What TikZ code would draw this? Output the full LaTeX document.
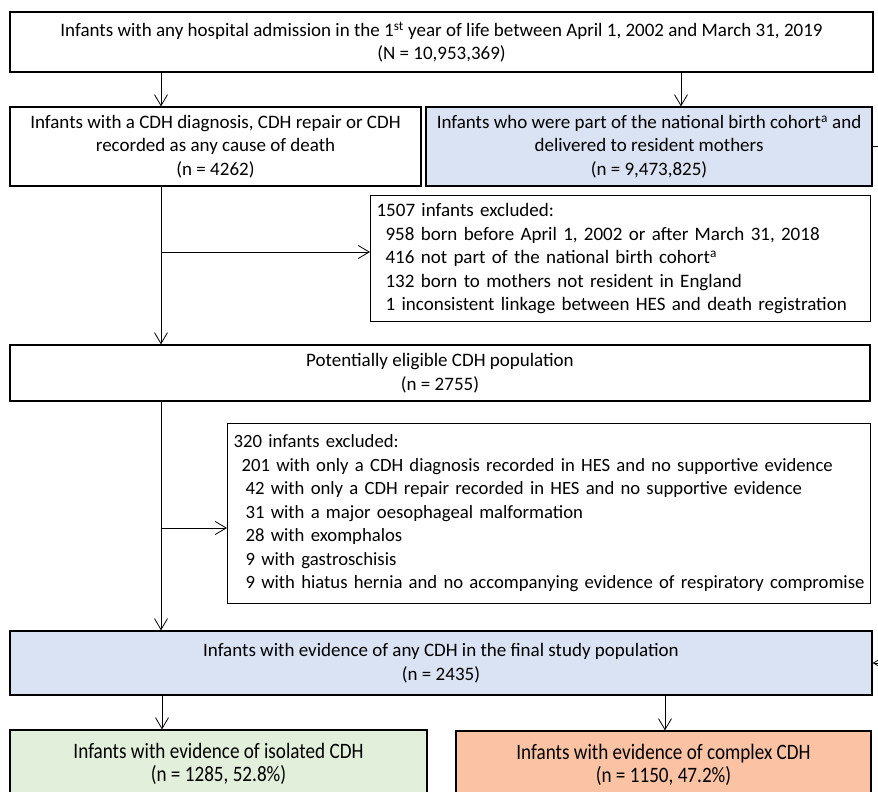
\documentclass[tikz,border=0pt]{standalone}
\usepackage{fontspec}
\setmainfont{Carlito}
\newfontfamily\narrowfont{Carlito}[FakeStretch=0.87]
\usepackage{xcolor}
\usetikzlibrary{arrows.meta, positioning, calc}

\definecolor{cohortblue}{HTML}{DAE3F3}
\definecolor{isolgreen}{HTML}{E2EFDA}
\definecolor{complexorange}{HTML}{FBC3A4}

\begin{document}
\begin{tikzpicture}[
	  x=1pt, y=-1pt,
	  font=\fontsize{19}{23.5}\selectfont,
	  box/.style={
	    draw,
	    line width=1.2pt,
	    align=center,
	    inner sep=0pt
	  },
	  bluebox/.style={box,fill=cohortblue},
	  exclbox/.style={box,align=left,anchor=north west,inner xsep=6pt,inner ysep=0pt},
	  greenbox/.style={box,fill=isolgreen,font=\narrowfont\fontsize{22}{23}\selectfont},
	  orangebox/.style={box,fill=complexorange,font=\narrowfont\fontsize{22}{23}\selectfont},
	  arrow/.style={-{Straight Barb[length=11pt,width=13pt]},line width=0.8pt}
	]

	\useasboundingbox (0,0) rectangle (878,792);
	\clip (0,0) rectangle (878,792);

	% Main boxes
	\node[box, minimum width=863, minimum height=60] (all) at (441.5,42)
	  {Infants with any hospital admission in the 1\textsuperscript{st} year of life between April 1, 2002 and March 31, 2019\\(N = 10,953,369)};

	\node[box, minimum width=411, minimum height=79] (cdh) at (215.5,146.5)
	  {Infants with a CDH diagnosis, CDH repair or CDH\\recorded as any cause of death\\(n = 4262)};

	\node[bluebox, minimum width=446, minimum height=79] (cohort) at (649,146.5)
	  {Infants who were part of the national birth cohort\textsuperscript{a} and\\delivered to resident mothers\\(n = 9,473,825)};

	\node[exclbox, text width=488, minimum height=126] (excl1) at (370,195)
	  {1507 infants excluded:\\
	   \hspace*{9pt}958 born before April 1, 2002 or after March 31, 2018\\
	   \hspace*{9pt}416 not part of the national birth cohort\textsuperscript{a}\\
	   \hspace*{9pt}132 born to mothers not resident in England\\
	   \hspace*{9pt}1 inconsistent linkage between HES and death registration};

	\node[box, minimum width=860, minimum height=56] (elig) at (440,373)
	  {Potentially eligible CDH population\\(n = 2755)};

	\node[exclbox, text width=631, minimum height=180, font=\fontsize{18.7}{23.5}\selectfont] (excl2) at (227,423)
	  {320 infants excluded:\\
	   \hspace*{8pt}\mbox{201 with only a CDH diagnosis recorded in HES and no supportive evidence}\\
	   \hspace*{12pt}\mbox{42 with only a CDH repair recorded in HES and no supportive evidence}\\
	   \hspace*{12pt}31 with a major oesophageal malformation\\
	   \hspace*{12pt}28 with exomphalos\\
	   \hspace*{12pt}9 with gastroschisis\\
	   \hspace*{12pt}\mbox{9 with hiatus hernia and no accompanying evidence of respiratory compromise}};

	\node[bluebox, minimum width=862, minimum height=64] (final) at (441,663)
	  {Infants with evidence of any CDH in the final study population\\(n = 2435)};

	\node[greenbox, minimum width=417, minimum height=68] (isolated) at (218.5,764)
	  {Infants with evidence of isolated CDH\\(n = 1285, 52.8\%)};

	\node[orangebox, minimum width=415, minimum height=68] (complex) at (663.5,765)
	  {Infants with evidence of complex CDH\\(n = 1150, 47.2\%)};

	% Trunk and branch points
	\coordinate (trunk) at (161,0);
	\coordinate (rtrunk) at (681,0);
	\coordinate (split1) at (161,252);
	\coordinate (split2) at (161,528);
	\coordinate (ltrunk) at (162,0);
	\coordinate (ctrunk) at (665,0);
	\coordinate (edge) at (900,0);

	% Flow arrows
	\draw[arrow] (all.south -| trunk) -- (cdh.north -| trunk);
	\draw[arrow] (all.south -| rtrunk) -- (cohort.north -| rtrunk);
	\draw[arrow] (cdh.south -| trunk) -- (elig.north -| trunk);
	\draw[arrow] (split1) -- (split1 -| excl1.west);
	\draw[arrow] (elig.south -| trunk) -- (final.north -| trunk);
	\draw[arrow] (split2) -- (split2 -| excl2.west);
	\draw[arrow] (final.south -| ltrunk) -- (isolated.north -| ltrunk);
	\draw[arrow] (final.south -| ctrunk) -- (complex.north -| ctrunk);

	% Cohort link running off the right edge
	\draw[arrow] (cohort.east) -- (cohort.east -| edge) |- (final.east);

	\end{tikzpicture}
\end{document}
